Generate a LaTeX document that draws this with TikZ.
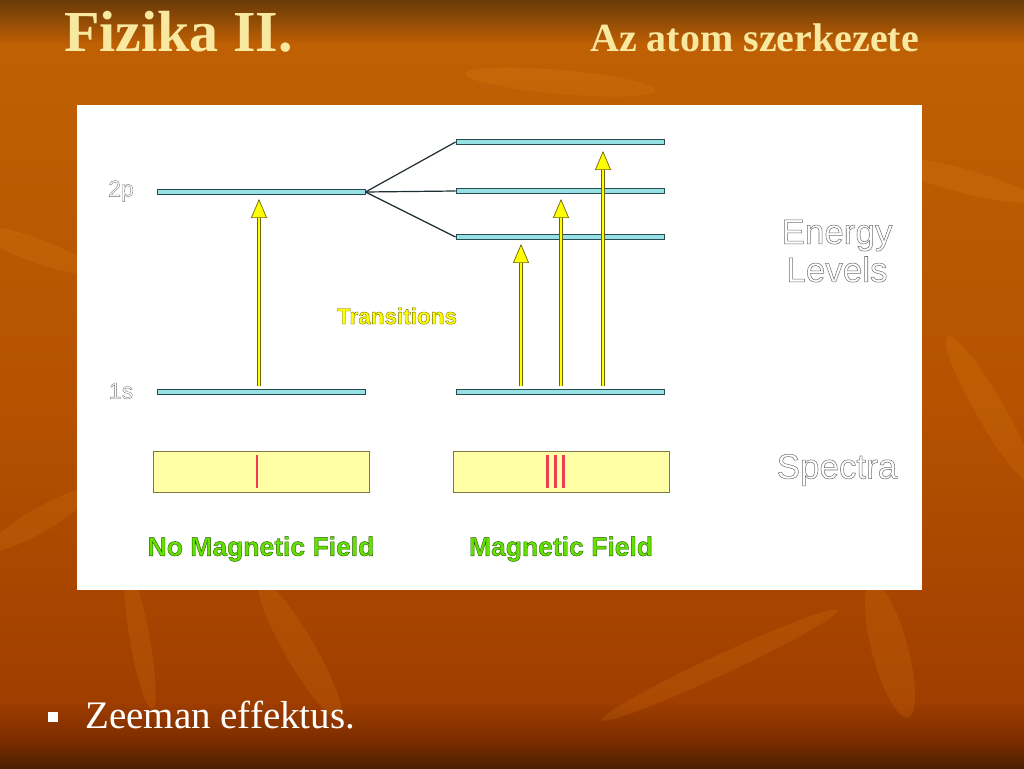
\documentclass[tikz,border=0pt]{standalone}
\usepackage{fontspec}
\setmainfont{Liberation Serif}
\setsansfont{Liberation Sans}
\usetikzlibrary{arrows.meta}

\definecolor{levelcyan}{RGB}{150,225,230}
\definecolor{leveldark}{RGB}{40,75,80}
\definecolor{splitdark}{RGB}{30,45,50}
\definecolor{arrowyellow}{RGB}{255,255,0}
\definecolor{arrowolive}{RGB}{110,100,0}
\definecolor{specyellow}{RGB}{255,255,165}
\definecolor{specborder}{RGB}{130,120,70}
\definecolor{specred}{RGB}{240,60,80}
\definecolor{fieldgreen}{RGB}{100,225,0}
\definecolor{fielddark}{RGB}{35,90,0}
\definecolor{titleyellow}{RGB}{248,232,160}
\definecolor{leafcolor}{RGB}{235,140,30}
\definecolor{bgtop}{RGB}{105,58,8}
\definecolor{bgupper}{RGB}{192,96,4}
\definecolor{bgmid}{RGB}{182,82,0}
\definecolor{bglow}{RGB}{160,62,0}
\definecolor{bgdeep}{RGB}{125,45,0}
\definecolor{bgbottom}{RGB}{75,32,2}

\pgfdeclareverticalshading{slidebg}{100bp}{%
  color(0bp)=(bgbottom);
  color(25bp)=(bgbottom);
  color(26.8bp)=(bgdeep);
  color(29.4bp)=(bglow);
  color(49bp)=(bgmid);
  color(72.1bp)=(bgupper);
  color(75bp)=(bgtop);
  color(100bp)=(bgtop)}

% outlined text: fake bold stroke in its own colour (r g b), fill in the text colour
\newcommand{\outlined}[3]{{\addfontfeature{FakeBold=#1}\special{pdf:literal direct #2 RG}#3}}

\begin{document}
\begin{tikzpicture}[x=1pt,y=-1pt,
  energylevel/.style={draw=leveldark, fill=levelcyan, line width=0.9, inner sep=0,
    minimum height=5, minimum width=#1},
  splitline/.style={draw=splitdark, line width=1.2},
  transarrow/.style={draw=arrowolive, line width=0.7, double=arrowyellow, double distance=1.8,
    -{Triangle[width=16,length=19,fill=arrowyellow,line width=0.7]}},
  specbox/.style={draw=specborder, fill=specyellow, line width=0.9, inner sep=0,
    minimum width=216, minimum height=41},
  specline/.style={draw=specred, line width=2.4},
  statelabel/.style={font=\sffamily\fontsize{23}{26}\selectfont, text=white, inner sep=0},
  sideword/.style={font=\sffamily\fontsize{35}{38}\selectfont, text=white, inner sep=0, align=center},
  translabel/.style={font=\sffamily\bfseries\fontsize{22.5}{26}\selectfont, text=arrowyellow, inner sep=0},
  fieldlabel/.style={font=\sffamily\bfseries\fontsize{26.5}{30}\selectfont, text=fieldgreen, inner sep=0},
  titletext/.style={text=titleyellow, inner sep=0, anchor=base west},
  leaf/.style={fill=leafcolor, opacity=0.16}]
\useasboundingbox (0,0) rectangle (1024,768);

% slide background
\begin{scope}
\clip (0,0) rectangle (1024,768);
\shade[shading=slidebg] (0,0) rectangle (1024,768);
\fill[leaf, rotate around={-15:(960,180)}] (960,180) ellipse (75 and 12);
\fill[leaf, rotate around={-60:(990,410)}] (990,410) ellipse (85 and 14);
\fill[leaf, rotate around={-75:(890,650)}] (890,650) ellipse (70 and 18);
\fill[leaf, rotate around={25:(720,665)}] (720,665) ellipse (130 and 10);
\fill[leaf, rotate around={-60:(300,650)}] (300,650) ellipse (80 and 15);
\fill[leaf, rotate around={-20:(35,250)}] (35,250) ellipse (60 and 12);
\fill[leaf, rotate around={30:(40,520)}] (40,520) ellipse (60 and 12);
\fill[leaf, rotate around={-5:(560,82)}] (560,82) ellipse (95 and 12);
\fill[leaf, rotate around={-80:(140,640)}] (140,640) ellipse (70 and 10);
\end{scope}

% title
\node[titletext, font=\bfseries\fontsize{58}{60}\selectfont] (title) at (64,52) {Fizika II.};
\node[titletext, font=\bfseries\fontsize{40}{44}\selectfont] (subtitle) at (590,52) {Az atom szerkezete};

% white panel
\fill[white] (77,105) rectangle (922,590);

% energy levels
\node[energylevel=208] (s1) at (261,392) {};
\node[energylevel=208] (p2) at (261,192) {};
\node[energylevel=208] (s1b) at (560,392) {};
\node[energylevel=208] (p2up) at (560,142) {};
\node[energylevel=208] (p2mid) at (560,191) {};
\node[energylevel=208] (p2low) at (560,237) {};
\node[statelabel] (lab2p) at (121,191) {\outlined{1.5}{0.45 0.45 0.45}{2p}};
\node[statelabel] (lab1s) at (121,391) {\outlined{1.5}{0.45 0.45 0.45}{1s}};

\draw[splitline] (p2.east) -- (p2up.west);
\draw[splitline] (p2.east) -- (p2mid.west);
\draw[splitline] (p2.east) -- (p2low.west);

% transitions
\draw[transarrow] ([xshift=-2,yshift=3]s1.north) -- ([xshift=-2,yshift=-4]p2.south);
\draw[transarrow] ([xshift=-39,yshift=3]s1b.north) -- ([xshift=-39,yshift=-4]p2low.south);
\draw[transarrow] ([xshift=1,yshift=3]s1b.north) -- ([xshift=1,yshift=-5]p2mid.south);
\draw[transarrow] ([xshift=43,yshift=3]s1b.north) -- ([xshift=43,yshift=-6]p2up.south);
\node[translabel] (trans) at (397,316) {\outlined{1.5}{0.43 0.39 0}{Transitions}};

% spectra
\node[specbox] (specno) at (261,471.5) {};
\node[specbox] (specyes) at (561.5,471.5) {};
\draw[specline] ([xshift=-4,yshift=-4]specno.north) -- ([xshift=-4,yshift=4]specno.south);
\foreach \dx in {-14,-6,2}
  \draw[specline] ([xshift=\dx,yshift=-4]specyes.north) -- ([xshift=\dx,yshift=4]specyes.south);

% side words
\node[sideword] (energy) at (837,251) {\outlined{1.5}{0.45 0.45 0.45}{Energy}\\\outlined{1.5}{0.45 0.45 0.45}{Levels}};
\node[sideword] (spectra) at (837,470) {\outlined{1.5}{0.45 0.45 0.45}{Spectra}};
\node[fieldlabel] (nofield) at (261,549) {\outlined{1.5}{0.14 0.35 0}{No Magnetic Field}};
\node[fieldlabel] (field) at (561,549) {\outlined{1.5}{0.14 0.35 0}{Magnetic Field}};

% bullet line
\fill[white] (48,712) rectangle (58,722);
\node[titletext, text=white, font=\fontsize{39}{42}\selectfont] (zeeman) at (85,728) {Zeeman effektus.};

\end{tikzpicture}
\end{document}
